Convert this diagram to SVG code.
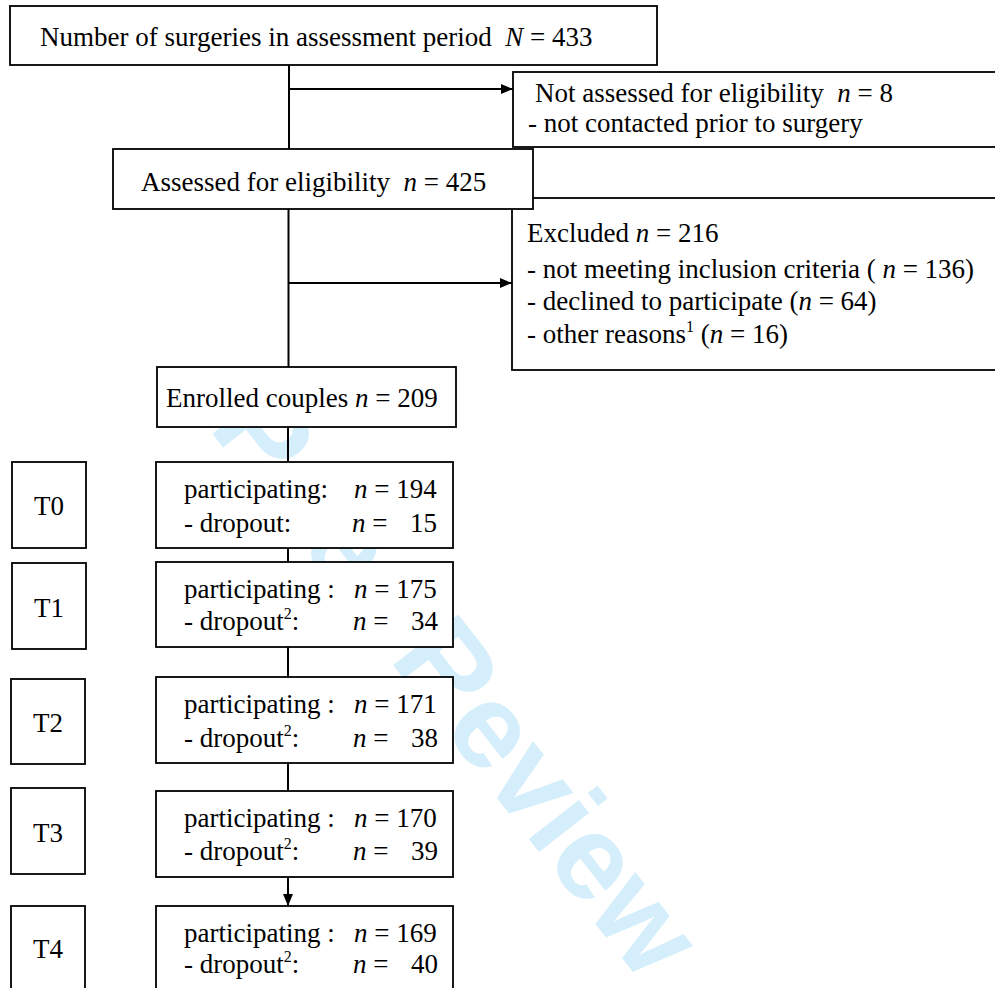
<svg xmlns="http://www.w3.org/2000/svg" width="995" height="988" viewBox="0 0 995 988">
<style>
.bx{fill:#fff;stroke:#000;stroke-width:1.8}
.t{font-family:"Liberation Serif","Times New Roman",serif;font-size:27px;fill:#000}
.i{font-style:italic}
.ln{stroke:#000;stroke-width:2;fill:none}
.wm{font-family:"Liberation Sans",Arial,sans-serif;font-weight:bold;font-size:120px;fill:#d5eefb}
</style>
<defs>
<marker id="ah" markerWidth="12" markerHeight="10" refX="12" refY="5" orient="auto" markerUnits="userSpaceOnUse">
<path d="M0,0 L12,5 L0,10 Z" fill="#000"/>
</marker>
<clipPath id="wmclip"><rect x="0" y="428" width="995" height="560"/></clipPath>
</defs>
<rect width="995" height="988" fill="#fff"/>
<g id="watermark" clip-path="url(#wmclip)">
<text class="wm" transform="translate(68,249) rotate(52)">For Peer Review</text>
</g>
<g id="connectors">
<line class="ln" x1="289" y1="65" x2="289" y2="149"/>
<line class="ln" x1="289" y1="89" x2="513" y2="89" marker-end="url(#ah)"/>
<line class="ln" x1="288.5" y1="209" x2="288.5" y2="367"/>
<line class="ln" x1="289" y1="283" x2="512" y2="283" marker-end="url(#ah)"/>
<line class="ln" x1="288" y1="427" x2="288" y2="462"/>
<line class="ln" x1="288" y1="548" x2="288" y2="562"/>
<line class="ln" x1="288" y1="647" x2="288" y2="677"/>
<line class="ln" x1="288" y1="763" x2="288" y2="791"/>
<line class="ln" x1="288" y1="877" x2="288" y2="906" marker-end="url(#ah)"/>
</g>
<g id="surgeries">
<rect class="bx" x="10" y="6" width="647" height="59"/>
<text class="t" x="40" y="46" xml:space="preserve">Number of surgeries in assessment period  <tspan class="i">N</tspan> = 433</text>
</g>
<g id="not-assessed">
<rect class="bx" x="513" y="72" width="490" height="75"/>
<text class="t" x="535" y="102" xml:space="preserve">Not assessed for eligibility  <tspan class="i">n</tspan> = 8</text>
<text class="t" x="528" y="132">- not contacted prior to surgery</text>
</g>
<g id="excluded">
<rect class="bx" x="512" y="198" width="490" height="172"/>
<text class="t" x="527" y="242">Excluded <tspan class="i">n</tspan> = 216</text>
<text class="t" x="527" y="278">- not meeting inclusion criteria ( <tspan class="i">n</tspan> = 136)</text>
<text class="t" x="527" y="310">- declined to participate (<tspan class="i">n</tspan> = 64)</text>
<text class="t" x="527" y="343">- other reasons<tspan font-size="16" dy="-11">1</tspan><tspan dy="11"> (</tspan><tspan class="i">n</tspan> = 16)</text>
</g>
<g id="assessed">
<rect class="bx" x="113" y="149" width="420" height="60"/>
<text class="t" x="141" y="191" xml:space="preserve">Assessed for eligibility  <tspan class="i">n</tspan> = 425</text>
</g>
<g id="enrolled">
<rect class="bx" x="157" y="367" width="299" height="60"/>
<text class="t" x="166" y="407">Enrolled couples <tspan class="i">n</tspan> = 209</text>
</g>
<g id="T0">
<rect class="bx" x="12" y="462" width="74" height="86"/>
<text class="t" x="49" y="515" text-anchor="middle">T0</text>
</g>
<g id="wave-T0">
<rect class="bx" x="156" y="462" width="297" height="86"/>
<text class="t" x="184" y="498">participating:</text>
<text class="t" x="354" y="498"><tspan class="i">n</tspan> = 194</text>
<text class="t" x="184" y="532">- dropout:</text>
<text class="t" x="352" y="532"><tspan class="i">n</tspan> =</text>
<text class="t" x="437" y="532" text-anchor="end">15</text>
</g>
<g id="T1">
<rect class="bx" x="12" y="563" width="74" height="86"/>
<text class="t" x="49" y="617" text-anchor="middle">T1</text>
</g>
<g id="wave-T1">
<rect class="bx" x="156" y="562" width="297" height="85"/>
<text class="t" x="184" y="598">participating :</text>
<text class="t" x="354" y="598"><tspan class="i">n</tspan> = 175</text>
<text class="t" x="184" y="630">- dropout<tspan font-size="16" dy="-11">2</tspan><tspan dy="11">:</tspan></text>
<text class="t" x="353" y="630"><tspan class="i">n</tspan> =</text>
<text class="t" x="438" y="630" text-anchor="end">34</text>
</g>
<g id="T2">
<rect class="bx" x="11" y="679" width="74" height="85"/>
<text class="t" x="48" y="732" text-anchor="middle">T2</text>
</g>
<g id="wave-T2">
<rect class="bx" x="156" y="677" width="297" height="86"/>
<text class="t" x="184" y="713">participating :</text>
<text class="t" x="354" y="713"><tspan class="i">n</tspan> = 171</text>
<text class="t" x="184" y="747">- dropout<tspan font-size="16" dy="-11">2</tspan><tspan dy="11">:</tspan></text>
<text class="t" x="353" y="747"><tspan class="i">n</tspan> =</text>
<text class="t" x="438" y="747" text-anchor="end">38</text>
</g>
<g id="T3">
<rect class="bx" x="11" y="788" width="74" height="86"/>
<text class="t" x="48" y="842" text-anchor="middle">T3</text>
</g>
<g id="wave-T3">
<rect class="bx" x="156" y="791" width="297" height="86"/>
<text class="t" x="184" y="827">participating :</text>
<text class="t" x="354" y="827"><tspan class="i">n</tspan> = 170</text>
<text class="t" x="184" y="860">- dropout<tspan font-size="16" dy="-11">2</tspan><tspan dy="11">:</tspan></text>
<text class="t" x="353" y="860"><tspan class="i">n</tspan> =</text>
<text class="t" x="438" y="860" text-anchor="end">39</text>
</g>
<g id="T4">
<rect class="bx" x="11" y="906" width="74" height="95"/>
<text class="t" x="48" y="958" text-anchor="middle">T4</text>
</g>
<g id="wave-T4">
<rect class="bx" x="156" y="906" width="297" height="95"/>
<text class="t" x="184" y="942">participating :</text>
<text class="t" x="354" y="942"><tspan class="i">n</tspan> = 169</text>
<text class="t" x="184" y="973">- dropout<tspan font-size="16" dy="-11">2</tspan><tspan dy="11">:</tspan></text>
<text class="t" x="353" y="973"><tspan class="i">n</tspan> =</text>
<text class="t" x="438" y="973" text-anchor="end">40</text>
</g>
</svg>
